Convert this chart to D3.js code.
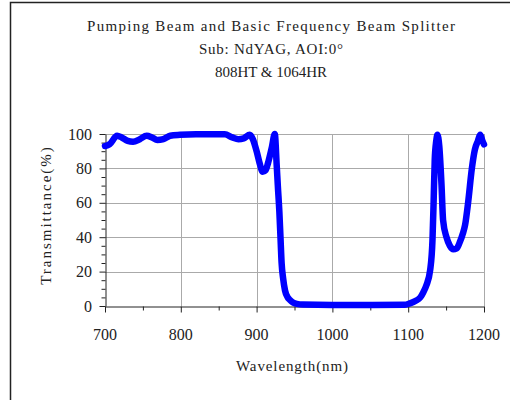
<!DOCTYPE html>
<html><head>
<meta charset="utf-8">
<script src="https://d3js.org/d3.v7.min.js"></script>
<style>
  body { margin: 0; background: #fff; }
  svg text { fill: #222; }
</style>
</head>
<body>
<svg id="plot" width="510" height="400"></svg>
<script>
// curve: wavelength (nm) and transmittance (%)
const wavelength = [700, 706, 716, 722, 730, 737, 746, 755, 762, 769, 777, 786, 799, 820, 840, 858, 868, 876, 883, 891,
  895, 900, 904, 908, 912, 915, 920, 924, 926.5, 928, 930, 931.5, 933, 935, 937.5, 941, 944, 948, 953, 961,
  1000, 1050, 1095, 1102, 1110, 1116, 1120, 1124, 1129, 1132, 1133.5, 1135, 1137, 1138.5, 1141, 1144, 1146,
  1150.5, 1155, 1159.5, 1164, 1168, 1172, 1175, 1179, 1184, 1188, 1192, 1195, 1198, 1200];
const transmit = [93, 94, 99, 98, 96, 95.5, 97, 99, 98, 96.5, 97, 99, 99.5, 99.8, 99.8, 99.8, 98, 97, 97.5, 99.5,
  97, 90, 83, 78, 79, 83, 92, 100, 82, 70, 55, 40, 25, 16, 9, 5, 3.5, 2, 1.2, 0.8,
  0.6, 0.6, 0.7, 1.5, 3, 5, 8, 12, 21, 38, 60, 85, 96, 99.5, 93, 70, 50,
  40, 35, 33, 33.5, 37, 42, 47, 60, 80, 91, 96, 99.5, 96, 94];
const xTicks = [700, 800, 900, 1000, 1100, 1200];
const yTicks = [0, 20, 40, 60, 80, 100];
const titleLines = ["Pumping Beam and Basic Frequency Beam Splitter", "Sub: NdYAG, AOI:0°", "808HT & 1064HR"];

const svg = d3.select("svg#plot");
const margin = {left: 105, right: 26, top: 134, bottom: 94};
const x = d3.scaleLinear().domain([700, 1200]).range([margin.left, 510 - margin.right]);
const y = d3.scaleLinear().domain([0, 100]).range([400 - margin.bottom, margin.top]);

const font = "'Liberation Serif', serif";
const charW = 8; // the original uses half-width glyphs, about 8px each

// stretch text out to the half-width look, but never squeeze it
function spread(sel, perChar) {
  sel.each(function() {
    const want = this.textContent.length * perChar;
    if (this.getComputedTextLength() < want)
      d3.select(this).attr("textLength", want).attr("lengthAdjust", "spacing");
  });
}

// outer frame (left and top edges)
svg.append("path").attr("d", "M10.5,400 V2.5 H510")
   .attr("fill", "none").attr("stroke", "#222").attr("stroke-width", 1.5);

// titles
svg.selectAll("text.title").data(titleLines).join("text")
   .attr("class", "title")
   .attr("x", 271).attr("y", (d, i) => 31 + i * 23)
   .attr("text-anchor", "middle")
   .style("font-family", font).style("font-size", "15px")
   .text(d => d)
   .call(spread, charW);

// grid
const grid = svg.append("g").attr("stroke", "#aaa").attr("stroke-width", 1);
grid.selectAll("line.h").data(yTicks.slice(1)).join("line")
    .attr("x1", x(700)).attr("x2", x(1200))
    .attr("y1", d => Math.round(y(d)) + 0.5).attr("y2", d => Math.round(y(d)) + 0.5);
grid.selectAll("line.v").data(xTicks.slice(1)).join("line")
    .attr("y1", y(0)).attr("y2", y(100))
    .attr("x1", d => Math.round(x(d)) + 0.5).attr("x2", d => Math.round(x(d)) + 0.5);

// axes
const xAxis = svg.append("g").attr("transform", "translate(0," + (Math.round(y(0)) + 0.5) + ")")
   .call(d3.axisBottom(x).tickValues(d3.range(700, 1201, 50)).tickSize(0).tickFormat(""));
xAxis.selectAll(".tick line").attr("y2", d => d % 100 === 0 ? 6 : 4).attr("stroke", "#222");
xAxis.select(".domain").attr("stroke", "#222");
svg.append("g").selectAll("text").data(xTicks).join("text")
   .attr("x", d => x(d)).attr("y", 340)
   .attr("text-anchor", "middle")
   .style("font-family", font).style("font-size", "16px")
   .text(d => d);

const yAxis = svg.append("g").attr("transform", "translate(" + (Math.round(x(700)) + 0.5) + ",0)")
   .call(d3.axisLeft(y).tickValues(d3.range(0, 101, 5)).tickSize(0).tickFormat(""));
yAxis.selectAll(".tick line").attr("x2", d => d % 20 === 0 ? -6 : -4).attr("stroke", "#222");
yAxis.select(".domain").attr("stroke", "#222");
svg.append("g").selectAll("text").data(yTicks).join("text")
   .attr("x", 92).attr("y", d => y(d) + 5.5)
   .attr("text-anchor", "end")
   .style("font-family", font).style("font-size", "16px")
   .text(d => d);

// axis titles
svg.append("text").attr("x", 292).attr("y", 371).attr("text-anchor", "middle")
   .style("font-family", font).style("font-size", "15px")
   .text("Wavelength(nm)")
   .call(spread, charW);
svg.append("text").attr("transform", "translate(51,216) rotate(-90)").attr("text-anchor", "middle")
   .style("font-family", font).style("font-size", "15px")
   .text("Transmittance(%)")
   .call(spread, 8.6);

// curve
const pts = wavelength.map((w, i) => [w, transmit[i]]);
svg.append("path").datum(pts)
   .attr("fill", "none").attr("stroke", "#0000ff").attr("stroke-width", 6.5)
   .attr("stroke-linejoin", "round").attr("stroke-linecap", "round")
   .attr("d", d3.line().x(d => x(d[0])).y(d => y(d[1])).curve(d3.curveMonotoneX));
</script>
</body>
</html>
